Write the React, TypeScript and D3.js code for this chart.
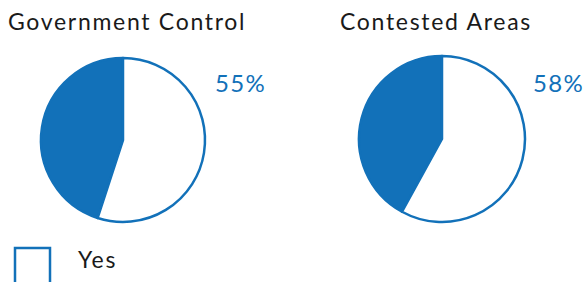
import React from "react";
import * as d3 from "d3";

const charts = ["Government Control", "Contested Areas"];
const yesValues = [55, 58];
const legendLabels = ["Yes"];

const BLUE = "#1271b9";

export default function App() {
  const W = 585, H = 282;
  const centers = [
    { cx: 123, cy: 140, r: 82, tx: 8, lx: 215 },
    { cx: 442, cy: 139, r: 83, tx: 340, lx: 533 },
  ];
  const pie = d3.pie<number>().sort(null).value((d) => d);
  return (
    <svg width={W} height={H} style={{ position: "absolute", left: 0, top: 0 }} fontFamily="Lato, sans-serif">
      <rect width={W} height={H} fill="#fff" />
      {charts.map((name, i) => {
        const c = centers[i];
        const arcs = pie([yesValues[i], 100 - yesValues[i]]);
        const arc = d3.arc<d3.PieArcDatum<number>>().innerRadius(0).outerRadius(c.r);
        return (
          <g key={name}>
            <text x={c.tx} y={30} fontSize={23} letterSpacing={1.7} fill="#1a1a1a">{name}</text>
            <g transform={`translate(${c.cx},${c.cy})`}>
              <path d={arc(arcs[1]) || ""} fill={BLUE} stroke={BLUE} strokeWidth={2.5} strokeLinejoin="round" />
              <path d={arc(arcs[0]) || ""} fill="#fff" stroke={BLUE} strokeWidth={2.5} strokeLinejoin="round" />
            </g>
            <text x={c.lx} y={92} fontSize={24} letterSpacing={1.3} fill={BLUE}>{yesValues[i]}%</text>
          </g>
        );
      })}
      <rect x={15} y={248} width={35} height={40} fill="#fff" stroke={BLUE} strokeWidth={2.5} />
      <text x={78} y={268} fontSize={23} letterSpacing={1.7} fill="#1a1a1a">{legendLabels[0]}</text>
    </svg>
  );
}
